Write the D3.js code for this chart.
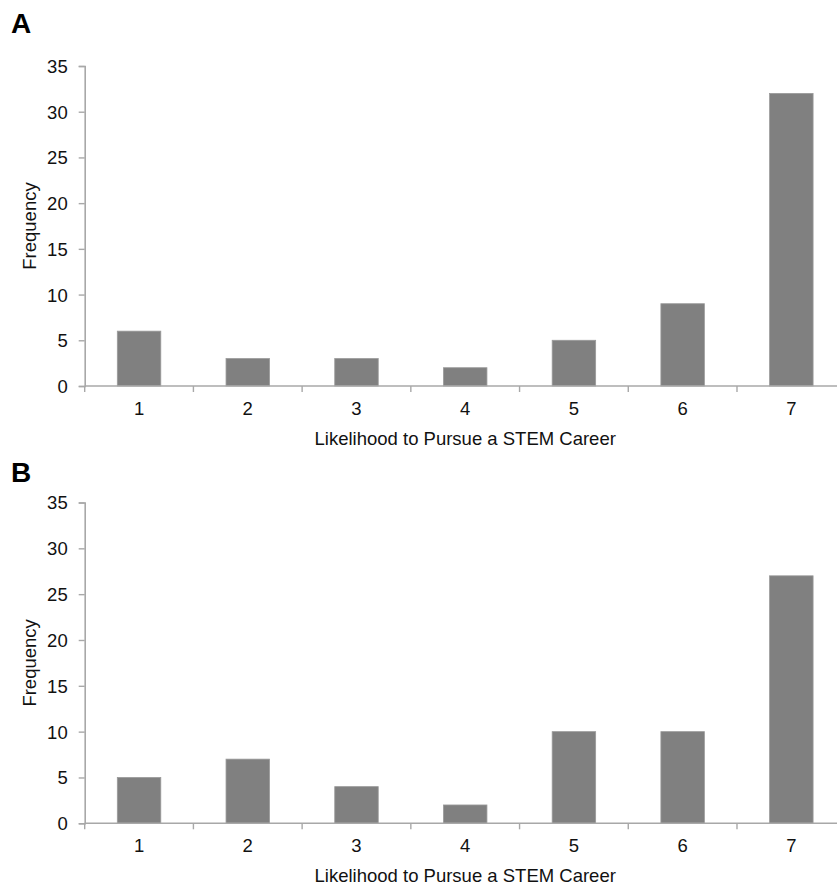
<!DOCTYPE html>
<html><head><meta charset="utf-8">
<script src="https://cdn.jsdelivr.net/npm/d3@7"></script>
<style>body{margin:0;background:#fff}svg{display:block}text{font-family:"Liberation Sans",Arial,sans-serif}</style>
</head><body><svg id="c" width="837" height="887"></svg>
<script>
const categories = ["1","2","3","4","5","6","7"];
const valuesA = [6,3,3,2,5,9,32];
const valuesB = [5,7,4,2,10,10,27];
const yTicks = [0,5,10,15,20,25,30,35];
const panelLabels = ["A","B"];
const xTitle = "Likelihood to Pursue a STEM Career";
const yTitle = "Frequency";

const svg = d3.select("#c");
const left = 84.7, right = 845.7;
const panels = [
  {label: panelLabels[0], values: valuesA, top: 66, bottom: 386, labelY: 33},
  {label: panelLabels[1], values: valuesB, top: 502.5, bottom: 823.3, labelY: 482}
];
const axisColor = "#a8a8a8";
const fs = 18.5;

panels.forEach(p => {
  const g = svg.append("g");
  const x = d3.scaleBand().domain(categories).range([left, right]).paddingInner(0).paddingOuter(0);
  const y = d3.scaleLinear().domain([0,35]).range([p.bottom, p.top]);
  const bw = x.bandwidth()*0.4;

  g.selectAll("rect").data(p.values).enter().append("rect")
    .attr("x", (d,i) => x(categories[i]) + (x.bandwidth()-bw)/2)
    .attr("y", d => y(d))
    .attr("width", bw)
    .attr("height", d => y(0)-y(d))
    .attr("fill", "#808080")
    .attr("stroke", "#9a9a9a").attr("stroke-width", 0.8);

  const ya = g.append("g").attr("transform", `translate(${left},0)`)
    .call(d3.axisLeft(y).tickValues(yTicks).tickSize(6).tickPadding(11));
  ya.select(".domain").attr("stroke", axisColor).attr("stroke-width", 1.6);
  ya.selectAll(".tick line").attr("stroke", axisColor).attr("stroke-width", 1.4);
  ya.selectAll(".tick text").attr("font-size", fs).attr("fill", "#111").attr("dy", "0.35em")
    .style("font-family", '"Liberation Sans",Arial,sans-serif');

  const boundaries = d3.range(categories.length+1).map(i => left + i*x.step());
  const xa = g.append("g");
  xa.append("line").attr("x1", left).attr("x2", right).attr("y1", p.bottom).attr("y2", p.bottom)
    .attr("stroke", axisColor).attr("stroke-width", 1.6);
  xa.selectAll("line.t").data(boundaries).enter().append("line").attr("class","t")
    .attr("x1", d => d).attr("x2", d => d).attr("y1", p.bottom).attr("y2", p.bottom+6)
    .attr("stroke", axisColor).attr("stroke-width", 1.4);
  xa.selectAll("text").data(categories).enter().append("text")
    .attr("x", d => x(d) + x.bandwidth()/2).attr("y", p.bottom + 28.5)
    .attr("text-anchor", "middle").attr("font-size", fs).attr("fill", "#111").text(d => d);

  g.append("text").attr("x", (left+right)/2).attr("y", p.bottom + 58.5)
    .attr("text-anchor", "middle").attr("font-size", fs).attr("fill", "#111").text(xTitle);

  g.append("text").attr("transform", `translate(36,${(p.top+p.bottom)/2}) rotate(-90)`)
    .attr("text-anchor", "middle").attr("font-size", fs).attr("fill", "#111").text(yTitle);

  g.append("text").attr("x", 11).attr("y", p.labelY).attr("font-size", 28).attr("font-weight", "bold")
    .attr("fill", "#000").text(p.label);
});
</script></body></html>
